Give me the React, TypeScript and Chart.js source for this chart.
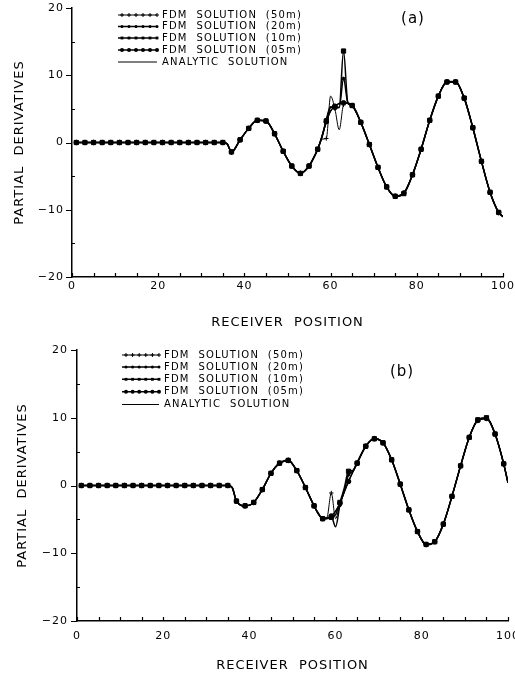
import React, { useEffect, useRef } from "react";
import { Chart, registerables } from "chart.js";

Chart.register(...registerables);

// ---------------- data ----------------
const receiverX = [
  1, 3, 5, 7, 9, 11, 13, 15, 17, 19, 21, 23, 25, 27, 29, 31, 33, 35,
  36, 37, 39, 41, 43, 45, 47, 49, 51, 53, 55,
  56, 57, 58, 59, 60, 61, 62, 63, 64, 65,
  67, 69, 71, 73, 75, 77, 79, 81, 83, 85, 87, 89, 91, 93, 95, 97, 99, 100,
];

// Panel (a)
const fdm50mA = [
  0, 0, 0, 0, 0, 0, 0, 0, 0, 0, 0, 0, 0, 0, 0, 0, 0, 0,
  -0.2, -1.5, 0.4, 2.1, 3.3, 3.1, 1.3, -1.3, -3.5, -4.5, -3.5,
  -2.4, -1.0, 0.5, 0.6, 6.9, 5.0, 1.9, 5.6, 5.9, 5.5,
  3.0, -0.3, -3.7, -6.6, -7.9, -7.5, -4.8, -1.0, 3.3, 6.9, 9.1, 9.1, 6.6, 2.2, -2.8, -7.4, -10.5, -11.1,
];
const fdm20mA = [
  0, 0, 0, 0, 0, 0, 0, 0, 0, 0, 0, 0, 0, 0, 0, 0, 0, 0,
  -0.2, -1.4, 0.4, 2.1, 3.3, 3.2, 1.3, -1.3, -3.5, -4.6, -3.5,
  -2.4, -1.0, 0.8, 3.4, 5.3, 5.2, 5.2, 9.5, 5.9, 5.5,
  3.0, -0.3, -3.7, -6.6, -8.0, -7.5, -4.8, -1.0, 3.3, 6.9, 9.0, 9.0, 6.6, 2.2, -2.8, -7.4, -10.4, -11.0,
];
const fdm10mA = [
  0, 0, 0, 0, 0, 0, 0, 0, 0, 0, 0, 0, 0, 0, 0, 0, 0, 0,
  -0.2, -1.4, 0.4, 2.1, 3.3, 3.2, 1.3, -1.3, -3.5, -4.6, -3.5,
  -2.3, -1.0, 0.9, 3.2, 5.2, 5.3, 5.2, 13.6, 5.9, 5.5,
  3.0, -0.3, -3.7, -6.6, -8.0, -7.6, -4.8, -1.0, 3.3, 6.9, 9.0, 9.0, 6.6, 2.2, -2.8, -7.4, -10.4, -11.0,
];
const fdm05mA = [
  0, 0, 0, 0, 0, 0, 0, 0, 0, 0, 0, 0, 0, 0, 0, 0, 0, 0,
  -0.2, -1.4, 0.4, 2.1, 3.3, 3.2, 1.3, -1.3, -3.5, -4.6, -3.5,
  -2.4, -1.0, 0.9, 3.1, 4.7, 5.4, 5.8, 5.9, 5.8, 5.5,
  3.0, -0.3, -3.7, -6.6, -8.0, -7.5, -4.8, -1.0, 3.3, 6.9, 9.0, 9.0, 6.6, 2.2, -2.8, -7.4, -10.4, -11.0,
];
const analyticA = [
  0, 0, 0, 0, 0, 0, 0, 0, 0, 0, 0, 0, 0, 0, 0, 0, 0, 0,
  -0.2, -1.4, 0.4, 2.1, 3.3, 3.2, 1.3, -1.3, -3.5, -4.6, -3.5,
  -2.4, -1.0, 0.9, 3.0, 4.6, 5.4, 5.8, 5.9, 5.8, 5.5,
  3.0, -0.3, -3.7, -6.6, -8.0, -7.5, -4.8, -1.0, 3.3, 6.9, 9.0, 9.0, 6.6, 2.2, -2.8, -7.4, -10.4, -11.0,
];

// Panel (b)
const fdm50mB = [
  0, 0, 0, 0, 0, 0, 0, 0, 0, 0, 0, 0, 0, 0, 0, 0, 0, 0,
  -0.3, -2.4, -3.0, -2.5, -0.6, 1.8, 3.3, 3.8, 2.2, -0.3, -3.0,
  -4.2, -4.9, -4.7, -1.1, -4.9, -2.7, -1.0, 0.6, 2.0, 3.3,
  5.8, 7.0, 6.3, 3.8, 0.2, -3.6, -6.8, -8.8, -8.3, -5.7, -1.6, 2.9, 7.1, 9.7, 10.0, 7.6, 3.2, 0.4,
];
const fdm20mB = [
  0, 0, 0, 0, 0, 0, 0, 0, 0, 0, 0, 0, 0, 0, 0, 0, 0, 0,
  -0.3, -2.3, -3.0, -2.5, -0.6, 1.8, 3.3, 3.7, 2.2, -0.3, -3.0,
  -4.2, -4.9, -4.8, -4.6, -6.1, -2.9, -0.8, 1.6, 2.1, 3.4,
  5.8, 6.9, 6.3, 3.8, 0.2, -3.6, -6.8, -8.7, -8.3, -5.7, -1.6, 2.9, 7.1, 9.6, 9.9, 7.6, 3.2, 0.4,
];
const fdm10mB = [
  0, 0, 0, 0, 0, 0, 0, 0, 0, 0, 0, 0, 0, 0, 0, 0, 0, 0,
  -0.3, -2.3, -3.0, -2.5, -0.6, 1.8, 3.3, 3.7, 2.2, -0.3, -3.0,
  -4.1, -4.9, -4.8, -4.7, -4.3, -2.5, -0.4, 2.1, 2.2, 3.3,
  5.8, 6.9, 6.3, 3.8, 0.2, -3.6, -6.8, -8.7, -8.3, -5.7, -1.6, 2.9, 7.1, 9.7, 10.0, 7.6, 3.2, 0.4,
];
const fdm05mB = [
  0, 0, 0, 0, 0, 0, 0, 0, 0, 0, 0, 0, 0, 0, 0, 0, 0, 0,
  -0.3, -2.3, -3.0, -2.5, -0.6, 1.8, 3.3, 3.7, 2.2, -0.3, -3.0,
  -4.2, -4.9, -4.9, -4.5, -3.8, -2.6, -1.0, 0.6, 2.0, 3.3,
  5.8, 6.9, 6.3, 3.8, 0.2, -3.6, -6.8, -8.7, -8.3, -5.7, -1.6, 2.9, 7.1, 9.6, 9.9, 7.6, 3.2, 0.4,
];
const analyticB = [
  0, 0, 0, 0, 0, 0, 0, 0, 0, 0, 0, 0, 0, 0, 0, 0, 0, 0,
  -0.3, -2.3, -3.0, -2.5, -0.6, 1.8, 3.3, 3.7, 2.2, -0.3, -3.0,
  -4.2, -4.9, -4.9, -4.5, -3.8, -2.6, -1.0, 0.6, 2.0, 3.3,
  5.8, 6.9, 6.3, 3.8, 0.2, -3.6, -6.8, -8.7, -8.3, -5.7, -1.6, 2.9, 7.1, 9.6, 9.9, 7.6, 3.2, 0.4,
];

const seriesNames = [
  "FDM  SOLUTION  (50m)",
  "FDM  SOLUTION  (20m)",
  "FDM  SOLUTION  (10m)",
  "FDM  SOLUTION  (05m)",
  "ANALYTIC  SOLUTION",
];
const xLabelValues = [0, 20, 40, 60, 80, 100];
const yLabelValues = [-20, -10, 0, 10, 20];
const xTitleText = "RECEIVER  POSITION";
const yTitleText = "PARTIAL  DERIVATIVES";

// ---------------- styling ----------------
const FONT = '"DejaVu Sans", "Liberation Sans", sans-serif';
const MINOR_X = 5;
const MINOR_Y = 5;

type Style = { lineWidth: number; pointStyle: any; radius: number };
const seriesStyles: Style[] = [
  { lineWidth: 1, pointStyle: "cross", radius: 2.2 },
  { lineWidth: 1.5, pointStyle: "circle", radius: 1.5 },
  { lineWidth: 1.5, pointStyle: "rect", radius: 3 },
  { lineWidth: 1.4, pointStyle: "circle", radius: 2.3 },
  { lineWidth: 1, pointStyle: false, radius: 0 },
];

type PanelSpec = {
  tag: string;
  series: number[][];
  height: number;
  padRight: number;
  padTop: number;
  yAxisWidth: number;
  xAxisHeight: number;
  xTickPad: number;
  yTickPad: number;
  yTitlePad: number;
  xTitlePad: number;
  legend: { x1: number; x2: number; textX: number; rows: number[] };
  tagPos: { x: number; y: number };
};

const panelA: PanelSpec = {
  tag: "(a)",
  series: [fdm50mA, fdm20mA, fdm10mA, fdm05mA, analyticA],
  height: 338,
  padRight: 12,
  padTop: 8,
  yAxisWidth: 72,
  xAxisHeight: 61,
  xTickPad: 3,
  yTickPad: 8,
  yTitlePad: 12,
  xTitlePad: 8,
  legend: { x1: 118, x2: 157, textX: 162, rows: [15, 26.5, 38, 50, 62] },
  tagPos: { x: 413, y: 19 },
};

const panelB: PanelSpec = {
  tag: "(b)",
  series: [fdm50mB, fdm20mB, fdm10mB, fdm05mB, analyticB],
  height: 338,
  padRight: 7,
  padTop: 12,
  yAxisWidth: 77,
  xAxisHeight: 55,
  xTickPad: 9,
  yTickPad: 9,
  yTitlePad: 15,
  xTitlePad: 3,
  legend: { x1: 122, x2: 159, textX: 164, rows: [17, 29, 41.3, 53.7, 66.5] },
  tagPos: { x: 402, y: 34 },
};

function drawMarker(ctx: CanvasRenderingContext2D, style: any, r: number, x: number, y: number) {
  if (!style || r <= 0) return;
  ctx.beginPath();
  if (style === "cross") {
    ctx.moveTo(x - r, y);
    ctx.lineTo(x + r, y);
    ctx.moveTo(x, y - r);
    ctx.lineTo(x, y + r);
    ctx.stroke();
  } else if (style === "rect") {
    const s = r * Math.SQRT1_2;
    ctx.fillRect(x - s, y - s, 2 * s, 2 * s);
  } else {
    ctx.arc(x, y, r, 0, Math.PI * 2);
    ctx.fill();
  }
}

function Panel({ spec }: { spec: PanelSpec }) {
  const ref = useRef<HTMLCanvasElement>(null);

  useEffect(() => {
    const canvas = ref.current;
    if (!canvas) return;

    const datasets = spec.series.map((vals, i) => {
      const st = seriesStyles[i];
      return {
        label: seriesNames[i],
        data: receiverX.map((x, j) => ({ x, y: vals[j] })),
        borderColor: "#000",
        backgroundColor: "#000",
        borderWidth: st.lineWidth,
        pointStyle: st.pointStyle,
        pointRadius: (c: any) => (receiverX[c.dataIndex] % 2 === 1 ? st.radius : 0),
        pointBorderWidth: 1,
        pointBackgroundColor: "#000",
        pointBorderColor: "#000",
        cubicInterpolationMode: "monotone" as const,
        fill: false,
      };
    });

    const decor = {
      id: "decor",
      beforeDraw(chart: any) {
        chart.ctx.letterSpacing = "1px";
      },
      afterDraw(chart: any) {
        const ctx: CanvasRenderingContext2D = chart.ctx;
        const area = chart.chartArea;
        const xs = chart.scales.x;
        const ys = chart.scales.y;
        ctx.save();
        ctx.strokeStyle = "#000";
        ctx.fillStyle = "#000";
        ctx.lineWidth = 1.2;
        ctx.beginPath();
        for (let v = xs.min; v <= xs.max; v += MINOR_X) {
          const p = Math.round(xs.getPixelForValue(v)) + 0.5;
          ctx.moveTo(p, area.bottom);
          ctx.lineTo(p, area.bottom - 4);
        }
        for (let v = ys.min; v <= ys.max; v += MINOR_Y) {
          const p = Math.round(ys.getPixelForValue(v)) + 0.5;
          if (yLabelValues.includes(v)) {
            ctx.moveTo(area.left - 6, p);
            ctx.lineTo(area.left, p);
          } else {
            ctx.moveTo(area.left, p);
            ctx.lineTo(area.left + 3, p);
          }
        }
        ctx.stroke();

        // legend
        const lg = spec.legend;
        ctx.font = `10px ${FONT}`;
        (ctx as any).letterSpacing = "1.2px";
        ctx.textBaseline = "middle";
        ctx.textAlign = "left";
        lg.rows.forEach((y, i) => {
          const st = seriesStyles[i];
          ctx.lineWidth = st.lineWidth;
          ctx.beginPath();
          ctx.moveTo(lg.x1, y);
          ctx.lineTo(lg.x2, y);
          ctx.stroke();
          ctx.lineWidth = 1;
          if (st.pointStyle) {
            const n = 6;
            for (let k = 0; k < n; k++) {
              const px = lg.x1 + 4 + (k * (lg.x2 - lg.x1 - 4)) / (n - 1);
              drawMarker(ctx, st.pointStyle, Math.min(st.radius, 2), px, y);
            }
          }
          ctx.fillText(seriesNames[i], lg.textX, y);
        });

        // panel tag
        ctx.font = `15px ${FONT}`;
        (ctx as any).letterSpacing = "1px";
        ctx.textAlign = "center";
        ctx.fillText(spec.tag, spec.tagPos.x, spec.tagPos.y);
        ctx.restore();
      },
    };

    const chart = new Chart(canvas, {
      type: "line",
      data: { datasets: datasets as any },
      options: {
        animation: false,
        responsive: false,
        events: [],
        layout: { padding: { left: 0, right: spec.padRight, top: spec.padTop, bottom: 0 } },
        plugins: { legend: { display: false }, tooltip: { enabled: false } },
        scales: {
          x: {
            type: "linear",
            min: 0,
            max: 100,
            afterBuildTicks: (s: any) => {
              s.ticks = xLabelValues.map((v) => ({ value: v }));
            },
            afterFit: (s: any) => {
              s.height = spec.xAxisHeight;
              s.paddingLeft = 0;
              s.paddingRight = 0;
            },
            ticks: {
              color: "#000",
              font: { family: FONT, size: 11 },
              padding: spec.xTickPad,
              maxRotation: 0,
              autoSkip: false,
              callback: (v: any) => String(v),
            },
            grid: { display: false, drawTicks: false },
            border: { display: true, color: "#000", width: 1.5 },
            title: {
              display: true,
              text: xTitleText,
              color: "#000",
              font: { family: FONT, size: 13 },
              padding: { top: 0, bottom: spec.xTitlePad },
            },
          },
          y: {
            type: "linear",
            min: -20,
            max: 20,
            afterBuildTicks: (s: any) => {
              s.ticks = yLabelValues.map((v) => ({ value: v }));
            },
            afterFit: (s: any) => {
              s.width = spec.yAxisWidth;
              s.paddingTop = 0;
              s.paddingBottom = 0;
            },
            ticks: {
              color: "#000",
              font: { family: FONT, size: 11 },
              padding: spec.yTickPad,
              autoSkip: false,
              callback: (v: any) => (Number(v) < 0 ? "\u2212" + Math.abs(Number(v)) : String(v)),
            },
            grid: { display: false, drawTicks: false },
            border: { display: true, color: "#000", width: 1.5 },
            title: {
              display: true,
              text: yTitleText,
              color: "#000",
              font: { family: FONT, size: 13 },
              padding: { top: spec.yTitlePad, bottom: 0 },
            },
          },
        },
      } as any,
      plugins: [decor],
    });

    return () => chart.destroy();
  }, [spec]);

  return (
    <canvas
      ref={ref}
      width={515}
      height={spec.height}
      style={{ display: "block", width: 515, height: spec.height }}
    />
  );
}

export default function App() {
  useEffect(() => {
    document.body.style.margin = "0";
  }, []);
  return (
    <div style={{ position: "absolute", left: 0, top: 0, width: 515, height: 676, background: "#fff" }}>
      <Panel spec={panelA} />
      <Panel spec={panelB} />
    </div>
  );
}
